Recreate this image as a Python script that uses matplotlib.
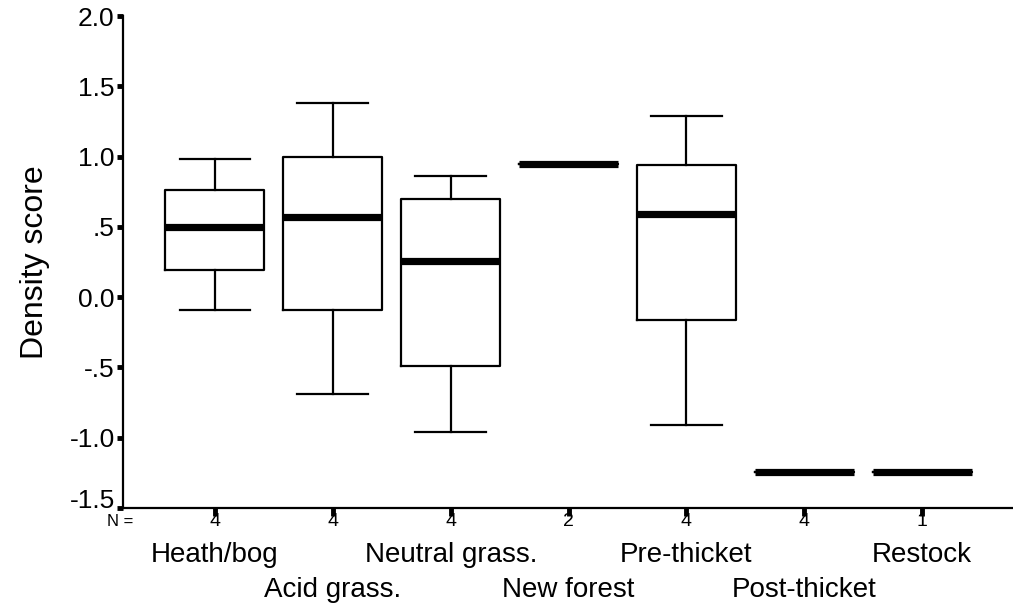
import matplotlib
matplotlib.use("Agg")
import matplotlib.pyplot as plt
import matplotlib.transforms as mtransforms

# Box-plot summaries per habitat (density score)
habitats = ["Heath/bog", "Acid grass.", "Neutral grass.", "New forest",
            "Pre-thicket", "Post-thicket", "Restock"]
n_sites = [4, 4, 4, 2, 4, 4, 1]
whisker_low = [-0.09, -0.69, -0.96, 0.945, -0.91, -1.245, -1.245]
q1 = [0.19, -0.09, -0.49, 0.945, -0.16, -1.245, -1.245]
median = [0.50, 0.57, 0.26, 0.945, 0.59, -1.245, -1.245]
q3 = [0.76, 1.00, 0.70, 0.945, 0.94, -1.245, -1.245]
whisker_high = [0.98, 1.38, 0.86, 0.945, 1.29, -1.245, -1.245]

y_ticks = [2.0, 1.5, 1.0, 0.5, 0.0, -0.5, -1.0, -1.5]
y_tick_labels = ["2.0", "1.5", "1.0", ".5", "0.0", "-.5", "-1.0", "-1.5"]

plt.rcParams["font.family"] = ["Liberation Sans", "DejaVu Sans"]

fig = plt.figure(figsize=(10.13, 6.04), dpi=100)
ax = fig.add_axes([123 / 1013, 96 / 604, 890 / 1013, 492 / 604])

stats = []
for i, name in enumerate(habitats):
    stats.append({
        "label": name,
        "whislo": whisker_low[i],
        "q1": q1[i],
        "med": median[i],
        "q3": q3[i],
        "whishi": whisker_high[i],
    })

positions = list(range(1, len(habitats) + 1))
ax.bxp(stats, positions=positions, widths=0.84, capwidths=0.6,
       showfliers=False,
       boxprops=dict(color="black", linewidth=1.6),
       whiskerprops=dict(color="black", linewidth=1.6),
       capprops=dict(color="black", linewidth=1.6),
       medianprops=dict(color="black", linewidth=5.2, solid_capstyle="butt"))

ax.set_xlim(0.22, 7.77)
ax.set_ylim(-1.5, 2.0)

for side in ["top", "right"]:
    ax.spines[side].set_visible(False)
ax.spines["left"].set_linewidth(1.6)
ax.spines["bottom"].set_linewidth(1.6)

ax.set_yticks(y_ticks)
ax.set_yticklabels(y_tick_labels, fontsize=19)
ax.tick_params(axis="y", direction="out", length=4, width=3.5, pad=2)

# lift the bottom tick label so it clears the N row
last = ax.get_yticklabels()[-1]
last.set_transform(last.get_transform() +
                   mtransforms.ScaledTranslation(0, 10 / 100, fig.dpi_scale_trans))

ax.set_xticks(positions)
ax.set_xticklabels([])
ax.tick_params(axis="x", direction="out", length=6, width=3.5)

ax.set_ylabel("Density score", fontsize=23, labelpad=14)

# N counts under each box
ax.annotate("N =", xy=(0, 0), xycoords="axes fraction",
            xytext=(-3, -14), textcoords="offset pixels",
            ha="center", va="center", fontsize=12)
for pos, n in zip(positions, n_sites):
    ax.annotate(str(n), xy=(pos, 0), xycoords=("data", "axes fraction"),
                xytext=(0, -14), textcoords="offset pixels",
                ha="center", va="center", fontsize=14)

# Category names in two staggered rows
for i, (pos, name) in enumerate(zip(positions, habitats)):
    offset = -47 if i % 2 == 0 else -82
    ax.annotate(name, xy=(pos, 0), xycoords=("data", "axes fraction"),
                xytext=(0, offset), textcoords="offset pixels",
                ha="center", va="center", fontsize=20)

fig.savefig("out.png", dpi=100)
